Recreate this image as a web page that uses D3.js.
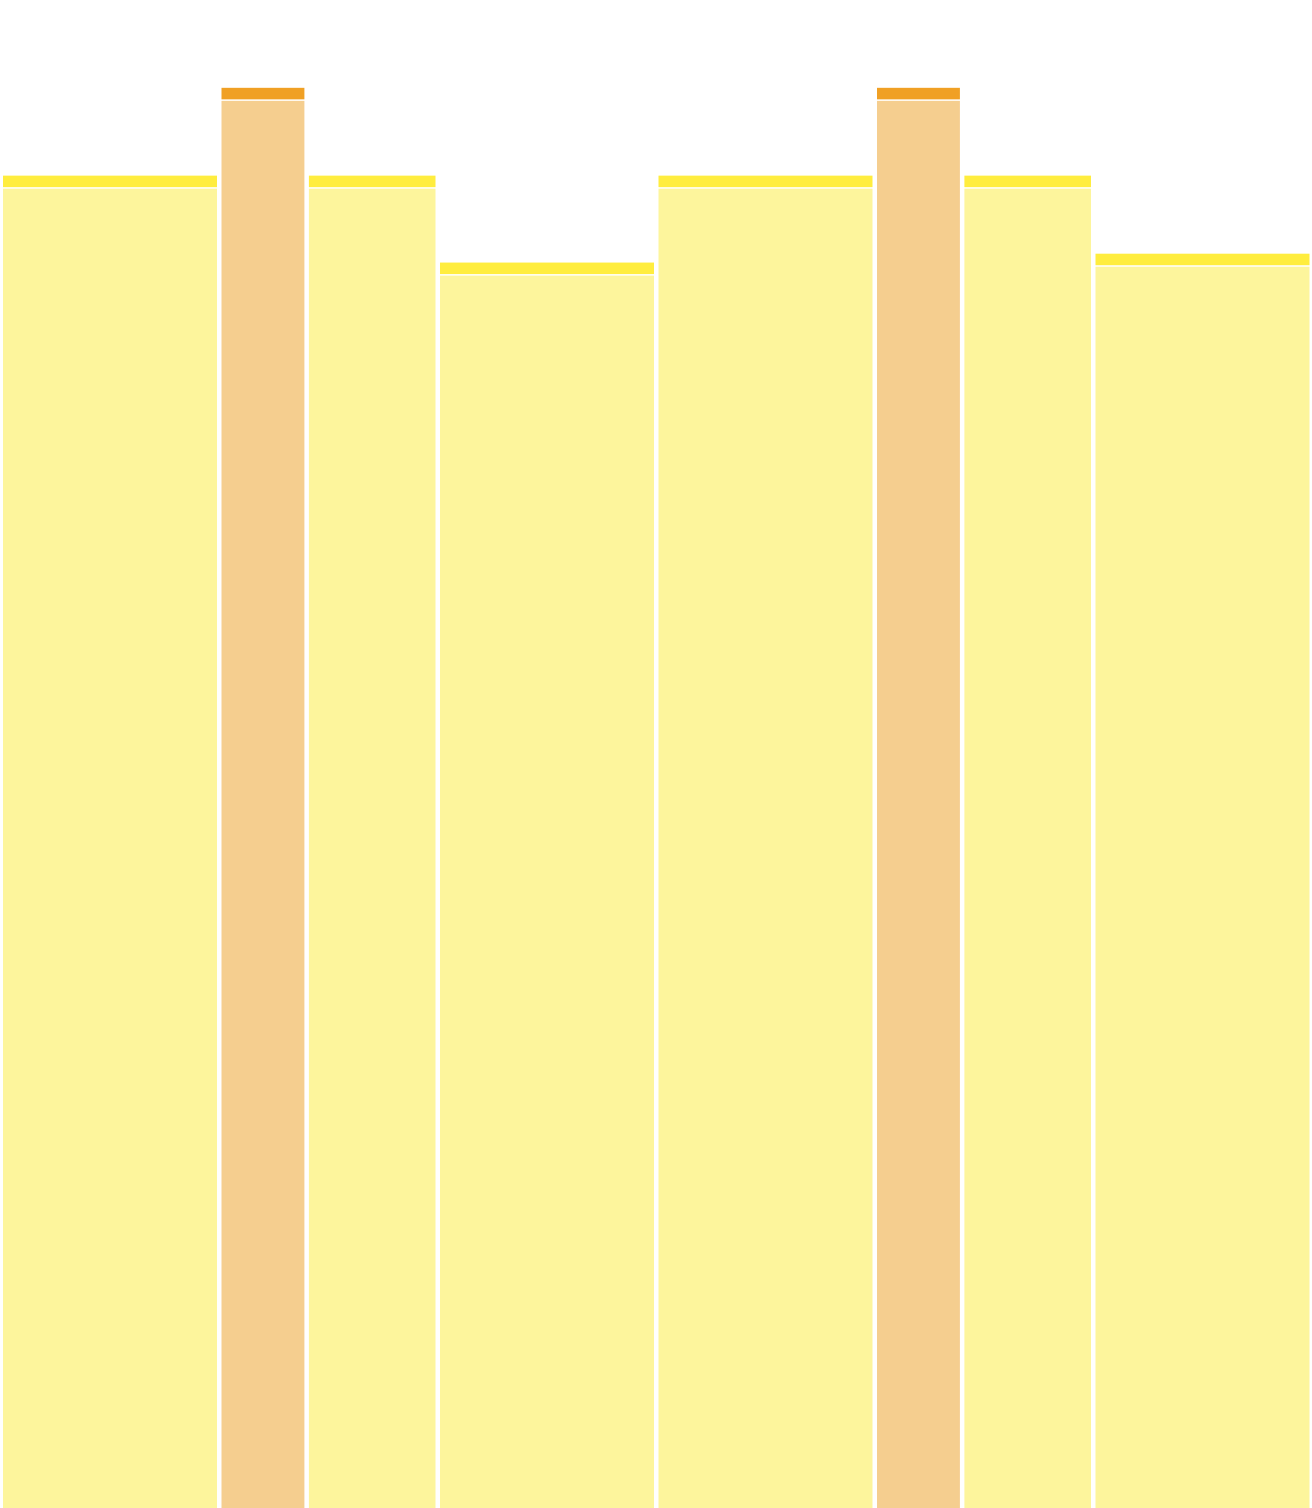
<!DOCTYPE html>
<html>
<head>
<meta charset="utf-8">
<script src="https://cdn.jsdelivr.net/npm/d3@7"></script>
<style>
  html, body { margin: 0; padding: 0; background: #fff; overflow: hidden; }
</style>
</head>
<body>
<div class="chart"></div>
<script>
// data
const categories = ['A1', 'A2', 'A3', 'A4', 'B1', 'B2', 'B3', 'B4'];
const widths = [5, 2, 3, 5, 5, 2, 3, 5];
const totals = [15.02, 16.01, 15.02, 14.04, 15.02, 16.01, 15.02, 14.14];
const caps = [0.13, 0.13, 0.13, 0.13, 0.13, 0.13, 0.13, 0.13];
const kinds = ['light', 'strong', 'light', 'light', 'light', 'strong', 'light', 'light'];

const width = 1312;
const height = 1508;
const gap = 4.5;

const colors = {
  light: { cap: '#ffed3e', body: '#fdf59c' },
  strong: { cap: '#f0a024', body: '#f5ce8f' }
};

// cumulative positions along x
let acc = 0;
const rows = categories.map((c, i) => {
  const r = { name: c, x0: acc, x1: acc + widths[i], total: totals[i], cap: caps[i], kind: kinds[i] };
  acc += widths[i];
  return r;
});

const svg = d3.select('.chart')
  .append('svg')
    .attr('width', width)
    .attr('height', height);

const xScale = d3.scaleLinear()
  .domain([0, d3.sum(widths)])
  .range([3, width + 2]);

const yScale = d3.scaleLinear()
  .domain([0, 17])
  .range([height, 0]);

const g = svg.selectAll('g.bar')
  .data(rows)
  .enter()
  .append('g')
    .attr('class', 'bar');

// body
g.append('rect')
  .attr('x', d => xScale(d.x0))
  .attr('width', d => xScale(d.x1) - xScale(d.x0) - gap)
  .attr('y', d => yScale(d.total - d.cap) + 1.5)
  .attr('height', d => yScale(0) - yScale(d.total - d.cap) - 1.5 + 20)
  .attr('fill', d => colors[d.kind].body);

// cap on top
g.append('rect')
  .attr('x', d => xScale(d.x0))
  .attr('width', d => xScale(d.x1) - xScale(d.x0) - gap)
  .attr('y', d => yScale(d.total))
  .attr('height', d => yScale(d.total - d.cap) - yScale(d.total))
  .attr('fill', d => colors[d.kind].cap);
</script>
</body>
</html>
